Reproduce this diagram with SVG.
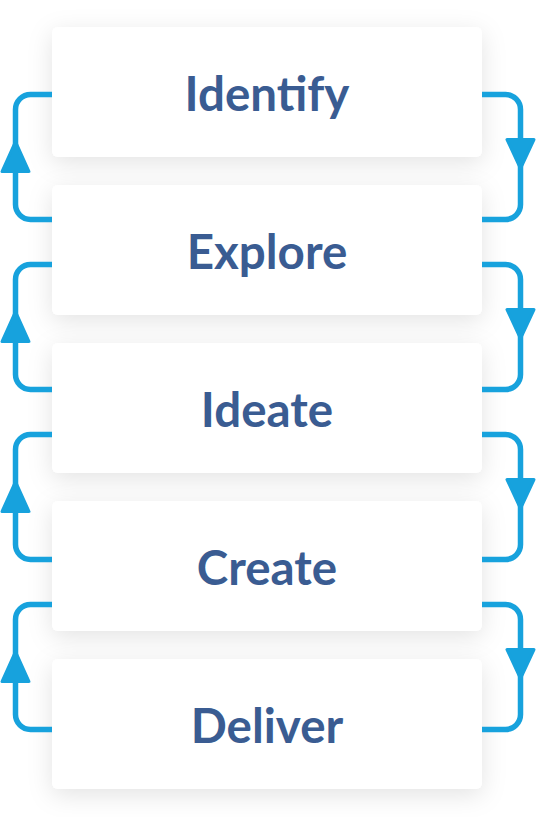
<svg xmlns="http://www.w3.org/2000/svg" width="536" height="817" viewBox="0 0 536 817">
<style>
.box{fill:#ffffff;filter:url(#sh)}
.lbl{font-family:Lato,"Noto Sans",sans-serif;font-weight:700;font-size:47.5px;fill:#3a5c92;text-anchor:middle}
.ln{fill:none;stroke:#17a2dd;stroke-width:5.5}
.ah{fill:#17a2dd;stroke:#17a2dd;stroke-width:3;stroke-linejoin:round}
</style>
<defs>
<filter id="sh" x="-15%" y="-40%" width="130%" height="190%">
<feDropShadow dx="0" dy="6" stdDeviation="12" flood-color="#000" flood-opacity="0.11"/>
</filter>
</defs>
<rect width="536" height="817" fill="#ffffff"/>
<g id="node-identify"><rect class="box" x="52" y="27" width="430" height="130" rx="6"/><text class="lbl" x="267" y="111">Identify</text></g>
<g id="node-explore"><rect class="box" x="52" y="185" width="430" height="130" rx="6"/><text class="lbl" x="267" y="269">Explore</text></g>
<g id="node-ideate"><rect class="box" x="52" y="343" width="430" height="130" rx="6"/><text class="lbl" x="267" y="427">Ideate</text></g>
<g id="node-create"><rect class="box" x="52" y="501" width="430" height="130" rx="6"/><text class="lbl" x="267" y="585">Create</text></g>
<g id="node-deliver"><rect class="box" x="52" y="659" width="430" height="130" rx="6"/><text class="lbl" x="267" y="743">Deliver</text></g>
<g id="connectors">
<path class="ln" d="M482,94.5 H505.5 A15,15 0 0 1 520.5,109.5 V204.5 A15,15 0 0 1 505.5,219.5 H482"/>
<path class="ln" d="M52,219.5 H30.5 A15,15 0 0 1 15.5,204.5 V109.5 A15,15 0 0 1 30.5,94.5 H52"/>
<polygon class="ah" points="507,139.5 534,139.5 520.5,168.5"/>
<polygon class="ah" points="15.5,141.5 29,171.5 2,171.5"/>
<path class="ln" d="M482,264.5 H505.5 A15,15 0 0 1 520.5,279.5 V374.5 A15,15 0 0 1 505.5,389.5 H482"/>
<path class="ln" d="M52,389.5 H30.5 A15,15 0 0 1 15.5,374.5 V279.5 A15,15 0 0 1 30.5,264.5 H52"/>
<polygon class="ah" points="507,309.5 534,309.5 520.5,338.5"/>
<polygon class="ah" points="15.5,311.5 29,341.5 2,341.5"/>
<path class="ln" d="M482,434.5 H505.5 A15,15 0 0 1 520.5,449.5 V544.5 A15,15 0 0 1 505.5,559.5 H482"/>
<path class="ln" d="M52,559.5 H30.5 A15,15 0 0 1 15.5,544.5 V449.5 A15,15 0 0 1 30.5,434.5 H52"/>
<polygon class="ah" points="507,479.5 534,479.5 520.5,508.5"/>
<polygon class="ah" points="15.5,481.5 29,511.5 2,511.5"/>
<path class="ln" d="M482,604.5 H505.5 A15,15 0 0 1 520.5,619.5 V714.5 A15,15 0 0 1 505.5,729.5 H482"/>
<path class="ln" d="M52,729.5 H30.5 A15,15 0 0 1 15.5,714.5 V619.5 A15,15 0 0 1 30.5,604.5 H52"/>
<polygon class="ah" points="507,649.5 534,649.5 520.5,678.5"/>
<polygon class="ah" points="15.5,651.5 29,681.5 2,681.5"/>
</g>
</svg>
